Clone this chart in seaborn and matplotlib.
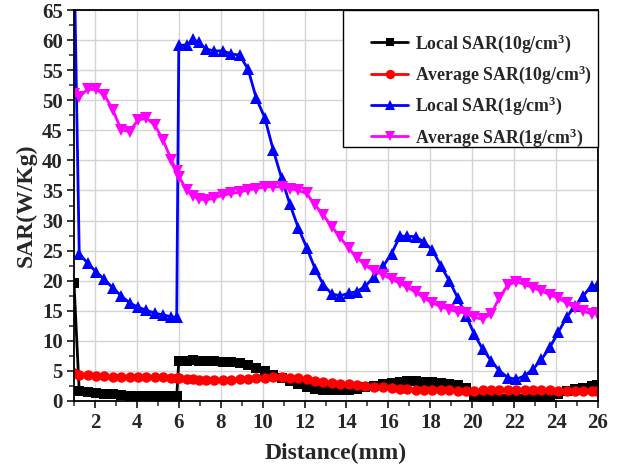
import matplotlib
matplotlib.use("Agg")
import matplotlib.pyplot as plt
from matplotlib.patches import Rectangle
import seaborn as sns
import pandas as pd

# Sample positions along the probe path (mm)
distance = [
    1.0, 1.25, 1.65, 2.05, 2.45, 2.85, 3.25, 3.65, 4.05, 4.45, 4.85, 5.25,
    5.65, 5.9, 6.0, 6.4, 6.7, 6.95,
    7.3, 7.7, 8.1, 8.5, 8.9, 9.3, 9.7, 10.1, 10.5, 10.9, 11.3, 11.7, 12.1,
    12.5, 12.9, 13.3, 13.7, 14.1, 14.5, 14.9, 15.3,
    15.75, 16.15, 16.55, 16.9,
    17.3, 17.7, 18.1, 18.5, 18.9, 19.3, 19.7, 20.1, 20.5, 20.9, 21.3, 21.7,
    22.1, 22.5, 22.9, 23.3, 23.7, 24.1, 24.5, 24.9, 25.3, 25.7, 25.95,
]

local_10g = [
    19.6, 1.6, 1.45, 1.35, 1.2, 1.1, 1.0, 0.9, 0.85, 0.8, 0.78, 0.75,
    0.75, 0.75, 6.7, 6.7, 6.75, 6.7,
    6.65, 6.6, 6.5, 6.45, 6.3, 6.05, 5.5, 5.0, 4.4, 3.9, 3.4, 2.8, 2.4,
    2.05, 1.9, 1.8, 1.8, 1.9, 2.0, 2.25, 2.5,
    2.75, 2.95, 3.15, 3.25,
    3.25, 3.2, 3.15, 3.0, 2.85, 2.6, 2.1, 0.9, 0.55, 0.45, 0.4, 0.3,
    0.3, 0.3, 0.35, 0.45, 0.7, 1.2, 1.6, 1.95, 2.2, 2.5, 2.6,
]

average_10g = [
    4.6, 4.4, 4.25, 4.15, 4.1, 4.05, 4.0, 4.0, 4.0, 4.0, 4.0, 3.95,
    3.9, 3.9, 3.75, 3.65, 3.6, 3.55,
    3.5, 3.5, 3.5, 3.55, 3.6, 3.7, 3.8, 3.9, 4.0, 4.0, 3.9, 3.75, 3.6,
    3.4, 3.2, 3.05, 2.9, 2.75, 2.6, 2.45, 2.35,
    2.25, 2.2, 2.05, 1.95,
    1.85, 1.8, 1.8, 1.75, 1.75, 1.7, 1.7, 1.7, 1.75, 1.8, 1.85, 1.9,
    1.9, 1.9, 1.85, 1.8, 1.75, 1.7, 1.7, 1.65, 1.65, 1.6, 1.6,
]

local_1g = [
    75.0, 24.5, 22.9, 21.5, 20.2, 18.8, 17.5, 16.3, 15.6, 15.1, 14.6, 14.3,
    14.0, 13.9, 59.1, 59.2, 60.1, 59.6,
    58.5, 58.2, 58.2, 57.7, 57.5, 55.2, 50.3, 47.1, 41.8, 37.1, 32.7, 28.8, 25.5,
    22.0, 19.3, 17.8, 17.5, 17.9, 18.2, 19.1, 20.6,
    22.4, 24.5, 27.4, 27.4,
    27.3, 26.4, 25.1, 22.5, 20.0, 17.2, 14.2, 11.1, 8.6, 6.7, 5.0, 3.9,
    3.6, 4.2, 5.3, 6.9, 8.9, 11.4, 13.9, 15.8, 17.5, 19.2, 19.1,
]

average_1g = [
    51.0, 50.6, 51.8, 51.8, 50.9, 48.4, 45.1, 44.8, 46.7, 47.0, 45.9, 43.4,
    40.0, 38.2, 37.3, 35.0, 34.0, 33.6,
    33.4, 33.8, 34.2, 34.5, 34.7, 35.1, 35.3, 35.6, 35.6, 35.6, 35.3, 35.0, 34.5,
    32.6, 30.9, 29.0, 27.2, 25.4, 23.8, 22.6, 21.6,
    21.0, 20.2, 19.6, 18.9,
    18.1, 17.1, 16.3, 15.7, 15.2, 14.85, 14.6, 13.9, 13.6, 14.5, 17.2, 19.3,
    19.8, 19.4, 18.8, 18.3, 17.7, 17.1, 16.3, 15.5, 14.9, 14.5, 14.7,
]

labels = [
    "Local SAR(10g/cm$^{3}$)",
    "Average SAR(10g/cm$^{3}$)",
    "Local SAR(1g/cm$^{3}$)",
    "Average SAR(1g/cm$^{3}$)",
]
x_ticks = [2, 4, 6, 8, 10, 12, 14, 16, 18, 20, 22, 24, 26]
y_ticks = [0, 5, 10, 15, 20, 25, 30, 35, 40, 45, 50, 55, 60, 65]

sns.set_style("white")
plt.rcParams["font.family"] = ["Liberation Serif", "DejaVu Serif"]
plt.rcParams["font.weight"] = "bold"
plt.rcParams["mathtext.fontset"] = "custom"
plt.rcParams["mathtext.rm"] = "Liberation Serif:bold"
plt.rcParams["mathtext.it"] = "Liberation Serif:bold"
plt.rcParams["mathtext.bf"] = "Liberation Serif:bold"
plt.rcParams["mathtext.default"] = "bf"

W, H = 629, 470
fig = plt.figure(figsize=(W / 100, H / 100), dpi=100)
ax = fig.add_axes([74 / W, 1 - 401 / H, (598 - 74) / W, (401 - 10) / H])

series = [
    (local_10g, "#000000", "s", 7.0),
    (average_10g, "#ff0000", "o", 7.5),
    (local_1g, "#0000ff", "^", 8.0),
    (average_1g, "#ff00ff", "v", 8.0),
]

for (vals, color, marker, msize), label in zip(series, labels):
    df = pd.DataFrame({"Distance": distance, "SAR": vals})
    sns.lineplot(
        data=df, x="Distance", y="SAR", ax=ax, color=color, marker=marker,
        markersize=msize, markeredgewidth=0, linewidth=2.0, sort=False,
        estimator=None, label=label,
    )

ax.set_xlim(1, 26)
ax.set_ylim(0, 65)
ax.set_xticks(x_ticks)
ax.set_yticks(y_ticks)
ax.set_xticks([1, 3, 5, 7, 9, 11, 13, 15, 17, 19, 21, 23, 25], minor=True)
ax.set_yticks([2.5 + 5 * i for i in range(13)], minor=True)
ax.grid(True, which="major", color="#d4d4d4", linewidth=1.0)
ax.set_axisbelow(True)

for side in ["left", "bottom", "top", "right"]:
    ax.spines[side].set_visible(True)
    ax.spines[side].set_color("black")
    ax.spines[side].set_linewidth(1.3)

ax.tick_params(axis="both", which="major", direction="out", length=5, width=1.3,
               labelsize=15, top=False, right=False, left=True, bottom=True)
ax.tick_params(axis="y", which="major", pad=3)
ax.tick_params(axis="x", which="major", pad=4)
ax.tick_params(axis="both", which="minor", direction="out", length=3.5, width=1.1,
               top=False, right=False, left=True, bottom=True)
for t in ax.get_xticklabels() + ax.get_yticklabels():
    t.set_fontweight("bold")

ax.set_xlabel("Distance(mm)", fontsize=17, fontweight="bold", va="top")
ax.set_ylabel("SAR(W/Kg)", fontsize=17, fontweight="bold")
ax.xaxis.set_label_coords(0.5, -(443 - 401) / (401 - 10))
ax.yaxis.set_label_coords(-(74 - 37) / (598 - 74), 0.5)

# Legend box in the upper-right corner, drawn as a separate white panel
panel = Rectangle((343 / W, 1 - 147 / H), (598 - 343) / W, (147 - 10) / H,
                  transform=fig.transFigure, facecolor="white", edgecolor="black",
                  linewidth=1.0, zorder=4, clip_on=False)
ax.add_patch(panel)

leg = ax.legend(
    loc="upper left", bbox_to_anchor=(371 / W, 1 - 32 / H),
    bbox_transform=fig.transFigure, borderaxespad=0, borderpad=0,
    frameon=False, prop={"size": 12.8, "weight": "bold"},
    handlelength=2.1, handletextpad=0.35, labelspacing=0.5, markerscale=0.9,
)
leg.set_zorder(5)

fig.savefig("out.png", dpi=100)
